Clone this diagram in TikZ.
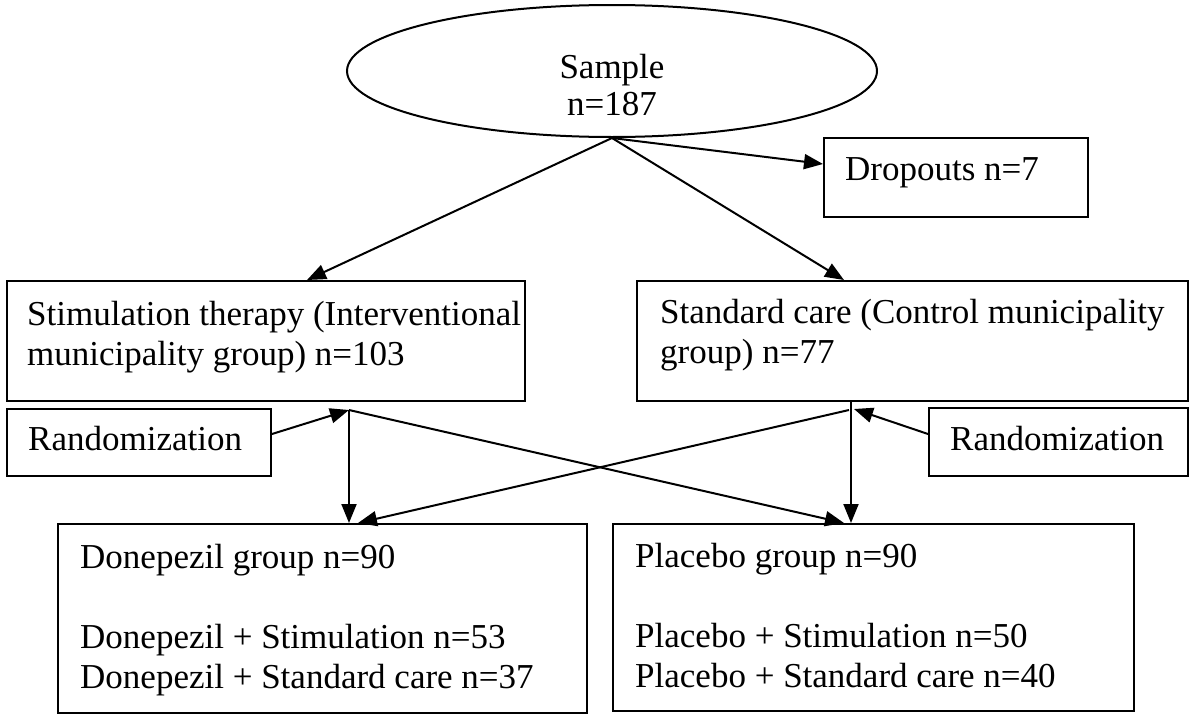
\documentclass[tikz,border=0pt]{standalone}
\usepackage{fontspec}
\setmainfont{Liberation Serif}
\usetikzlibrary{arrows.meta,shapes.geometric}
\newcommand{\mylines}[1]{\begin{tabular}[t]{@{}l@{}}#1\end{tabular}}
\begin{document}
\begin{tikzpicture}[x=1pt,y=-1pt,
  box/.style={draw, line width=2pt, rectangle, anchor=north west, inner sep=0pt},
  txt/.style={anchor=base west, inner sep=0pt, font=\fontsize{35}{40}\selectfont},
  arr/.style={-{Triangle[length=19pt,width=15pt]}, line width=2pt}]
\useasboundingbox (0,0) rectangle (1200,720);
% sample
\node[draw, ellipse, line width=2pt, minimum width=530pt, minimum height=132pt, inner sep=0pt] (sample) at (612,71) {};
\node[anchor=base, inner sep=0pt, font=\fontsize{35}{37}\selectfont] (sampletxt) at (612,78) {\begin{tabular}[t]{@{}c@{}}Sample\\n=187\end{tabular}};
% boxes
\node[box, minimum width=264pt, minimum height=79pt] (drop) at (823,137) {};
\node[txt] (droptxt) at (845,180) {Dropouts n=7};
\node[box, minimum width=518pt, minimum height=120pt] (lbox) at (6,280) {};
\node[txt] (lboxtxt) at (27,325) {\mylines{Stimulation therapy (Interventional\\municipality group) n=103}};
\node[box, minimum width=551pt, minimum height=120pt] (rbox) at (636,280) {};
\node[txt] (rboxtxt) at (660,323) {\mylines{Standard care (Control municipality\\group) n=77}};
\node[box, minimum width=264pt, minimum height=67pt] (lrand) at (6,408) {};
\node[txt] (lrandtxt) at (28,450) {Randomization};
\node[box, minimum width=259pt, minimum height=68pt] (rrand) at (928,407) {};
\node[txt] (rrandtxt) at (950,450) {Randomization};
\node[box, minimum width=529pt, minimum height=189pt] (don) at (57,523) {};
\node[txt] (dontxt) at (80,568) {\mylines{Donepezil group n=90\\[40pt]Donepezil + Stimulation n=53\\Donepezil + Standard care n=37}};
\node[box, minimum width=521pt, minimum height=187pt] (plc) at (612,523) {};
\node[txt] (plctxt) at (635,567) {\mylines{Placebo group n=90\\[40pt]Placebo + Stimulation n=50\\Placebo + Standard care n=40}};
% junction points
\coordinate (la) at ([xshift=83pt,yshift=-8pt]lbox.south);
\coordinate (ra) at ([xshift=-63.5pt,yshift=-8pt]rbox.south);
% connectors
\draw[arr] (sample.south) -- ([xshift=41pt]lbox.north);
\draw[arr] (sample.south) -- ([xshift=-68.5pt]rbox.north);
\draw[arr] (sample.south) -- ([yshift=13.5pt]drop.west);
\draw[arr] ([yshift=8.5pt]lrand.east) -- (la);
\draw[arr] ([yshift=8pt]rrand.west) -- ([xshift=5pt,yshift=1pt]ra);
\draw[arr] (la) -- ([xshift=26.5pt]don.north);
\draw[arr] (la) -- ([xshift=-29.5pt]plc.north);
\draw[arr] ([xshift=-61.5pt]rbox.south) -- ([xshift=-22.5pt]plc.north);
\draw[arr] (ra) -- ([xshift=35.5pt]don.north);
\end{tikzpicture}
\end{document}
